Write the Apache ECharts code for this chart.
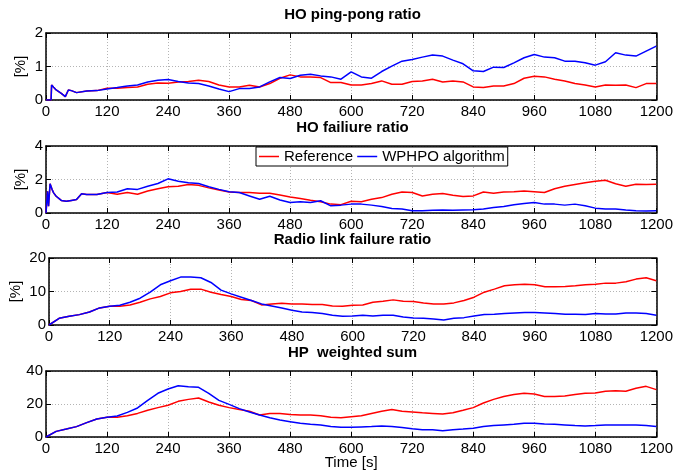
<!DOCTYPE html>
<html>
<head>
<meta charset="utf-8">
<title>HO performance</title>
<script src="https://cdn.jsdelivr.net/npm/echarts@6/dist/echarts.min.js"></script>
<style>
    html, body {margin: 0; padding: 0; background: #fff;}
    #chart {width: 676px; height: 471px;}
</style>
</head>
<body>
<div id="chart"></div>
<script>

// series names
var seriesNames = ['Reference', 'WPHPO algorithm'];
var panelTitles = ['HO ping-pong ratio', 'HO failiure ratio', 'Radio link failure ratio', 'HP  weighted sum'];
var yMaxes = [2, 4, 20, 40];

// time [s] sample points
var pingPongTime = [0, 10, 11, 15, 20, 30, 38, 44, 50, 60, 80, 100,
    120, 140, 160, 180, 200, 220, 240, 260, 280, 300, 320, 340, 360, 380, 400, 420, 440, 460, 480, 500,
    520, 540, 560, 580, 600, 620, 640, 660, 680, 700, 720, 740, 760, 780, 800, 820, 840, 860, 880, 900,
    920, 940, 960, 980, 1000, 1020, 1040, 1060, 1080, 1100, 1120, 1140, 1160, 1180, 1200];
var failureTime = [0, 3, 5, 8, 12, 15, 20, 30, 40, 50, 60, 70, 80, 100,
    120, 140, 160, 180, 200, 220, 240, 260, 280, 300, 320, 340, 360, 380, 400, 420, 440, 460, 480, 500,
    520, 540, 560, 580, 600, 620, 640, 660, 680, 700, 720, 740, 760, 780, 800, 820, 840, 860, 880, 900,
    920, 940, 960, 980, 1000, 1020, 1040, 1060, 1080, 1100, 1120, 1140, 1160, 1180, 1200];
var time = [0, 20, 40, 60, 80, 100,
    120, 140, 160, 180, 200, 220, 240, 260, 280, 300, 320, 340, 360, 380, 400, 420, 440, 460, 480, 500,
    520, 540, 560, 580, 600, 620, 640, 660, 680, 700, 720, 740, 760, 780, 800, 820, 840, 860, 880, 900,
    920, 940, 960, 980, 1000, 1020, 1040, 1060, 1080, 1100, 1120, 1140, 1160, 1180, 1200];

// HO ping-pong ratio [%]
var pingPongRef = [0, 0, 0.45, 0.38, 0.3, 0.2, 0.1, 0.3, 0.28, 0.22, 0.27, 0.28,
    0.35, 0.35, 0.37, 0.39, 0.47, 0.51, 0.5, 0.54, 0.55, 0.59, 0.55, 0.45, 0.39, 0.39, 0.44, 0.39, 0.49, 0.65, 0.75, 0.69,
    0.69, 0.67, 0.52, 0.52, 0.45, 0.45, 0.49, 0.57, 0.47, 0.47, 0.55, 0.57, 0.62, 0.54, 0.57, 0.54, 0.39, 0.37, 0.42, 0.42,
    0.49, 0.65, 0.71, 0.69, 0.62, 0.57, 0.49, 0.45, 0.39, 0.45, 0.44, 0.45, 0.37, 0.49, 0.49];
var pingPongAlg = [0, 0, 0.45, 0.38, 0.3, 0.2, 0.1, 0.3, 0.28, 0.22, 0.27, 0.28,
    0.33, 0.37, 0.42, 0.45, 0.54, 0.59, 0.61, 0.55, 0.51, 0.49, 0.42, 0.33, 0.25, 0.34, 0.34, 0.39, 0.54, 0.67, 0.64, 0.74,
    0.77, 0.72, 0.69, 0.62, 0.84, 0.69, 0.65, 0.85, 1.01, 1.16, 1.21, 1.28, 1.34, 1.31, 1.19, 1.08, 0.87, 0.85, 0.98, 0.97,
    1.11, 1.26, 1.36, 1.28, 1.26, 1.16, 1.16, 1.11, 1.04, 1.14, 1.41, 1.34, 1.31, 1.46, 1.61];

// HO failure ratio [%]
var failureRef = [0, 1.3, 0.4, 1.75, 1.4, 1.2, 1.0, 0.75, 0.7, 0.75, 0.8, 1.15, 1.1, 1.1,
    1.22, 1.12, 1.22, 1.12, 1.31, 1.45, 1.57, 1.6, 1.7, 1.65, 1.5, 1.37, 1.25, 1.22, 1.22, 1.18, 1.18, 1.08, 0.96, 0.86,
    0.76, 0.67, 0.53, 0.5, 0.7, 0.67, 0.82, 0.92, 1.12, 1.25, 1.22, 1.02, 1.12, 1.16, 1.06, 0.98, 1.02, 1.25, 1.18, 1.25,
    1.27, 1.31, 1.27, 1.22, 1.45, 1.6, 1.7, 1.8, 1.9, 1.96, 1.75, 1.6, 1.72, 1.7, 1.72];
var failureAlg = [0, 1.3, 0.4, 1.75, 1.4, 1.2, 1.0, 0.75, 0.7, 0.75, 0.8, 1.15, 1.1, 1.1,
    1.22, 1.25, 1.45, 1.41, 1.6, 1.76, 2.04, 1.9, 1.8, 1.76, 1.57, 1.41, 1.27, 1.22, 1.02, 0.82, 1.0, 0.78, 0.63, 0.67,
    0.63, 0.73, 0.43, 0.47, 0.53, 0.53, 0.47, 0.39, 0.27, 0.24, 0.14, 0.14, 0.16, 0.18, 0.16, 0.18, 0.2, 0.24, 0.33, 0.39,
    0.49, 0.57, 0.63, 0.53, 0.53, 0.47, 0.53, 0.43, 0.29, 0.24, 0.24, 0.18, 0.14, 0.12, 0.14];

// radio link failure ratio [%]
var rlfRef = [0, 2.0, 2.6, 3.1, 3.9, 5.1,
    5.6, 5.6, 6.0, 6.8, 7.8, 8.5, 9.6, 10.0, 10.7, 10.7, 9.8, 9.1, 8.5, 7.6, 7.3, 6.0, 6.3, 6.5, 6.3, 6.3,
    6.1, 6.1, 5.7, 5.6, 5.9, 6.0, 6.8, 7.1, 7.5, 7.1, 7.0, 6.6, 6.3, 6.3, 6.6, 7.3, 8.3, 9.8, 10.7, 11.7,
    12.0, 12.2, 12.0, 11.4, 11.4, 11.5, 11.7, 12.0, 12.2, 12.5, 12.5, 12.9, 13.7, 14.1, 13.2];
var rlfAlg = [0, 2.0, 2.6, 3.1, 3.9, 5.1,
    5.6, 5.9, 6.8, 8.0, 9.8, 12.0, 13.2, 14.3, 14.3, 14.1, 12.7, 10.4, 9.3, 8.3, 7.3, 6.3, 5.7, 5.1, 4.4, 3.9,
    3.7, 3.4, 2.9, 2.6, 2.7, 2.9, 2.7, 2.9, 2.9, 2.4, 2.1, 2.0, 1.8, 1.5, 2.0, 2.2, 2.7, 3.1, 3.2, 3.4,
    3.6, 3.7, 3.7, 3.6, 3.4, 3.2, 3.2, 3.1, 3.4, 3.3, 3.3, 3.6, 3.6, 3.4, 2.9];

// HP weighted sum
var hpRef = [0, 3.4, 4.8, 6.3, 8.7, 10.9,
    11.9, 11.9, 12.9, 14.3, 16.2, 17.8, 19.2, 21.6, 22.8, 23.6, 21.2, 19.2, 17.8, 16.6, 15.6, 13.3, 14.3, 14.3, 13.7, 13.3,
    13.3, 12.9, 11.9, 11.7, 12.3, 12.9, 14.3, 15.6, 16.6, 15.6, 15.2, 14.7, 14.3, 13.9, 14.7, 16.2, 17.8, 20.6, 22.8, 24.6,
    25.7, 26.5, 26.1, 24.6, 24.6, 24.8, 25.7, 26.5, 26.7, 27.7, 28.1, 27.7, 29.5, 30.7, 28.7];
var hpAlg = [0, 3.4, 4.8, 6.3, 8.7, 10.9,
    11.9, 12.7, 14.9, 17.6, 22.2, 26.5, 29.1, 31.1, 30.5, 30.1, 26.5, 22.2, 19.8, 17.2, 15.2, 13.3, 11.7, 10.3, 9.3, 8.3,
    7.7, 7.3, 6.3, 5.9, 5.9, 6.1, 6.3, 6.7, 6.3, 5.7, 5.0, 4.4, 4.4, 3.8, 4.4, 4.8, 5.3, 6.3, 6.9, 7.3,
    7.7, 8.3, 8.3, 7.9, 7.7, 7.3, 6.9, 6.7, 6.9, 7.3, 7.3, 7.3, 7.3, 6.9, 6.3];

var FONT = '"Liberation Sans", Arial, Helvetica, sans-serif';
var FONT_SIZE = 15;
var PLOT_LEFT = 46;
var PLOT_RIGHT = 17;
var PLOT_HEIGHT = 67;
var panelTops = [33, 146, 258, 371];
var nameGaps = [18, 18, 26, 26];

var panels = [
    {x: pingPongTime, ref: pingPongRef, alg: pingPongAlg},
    {x: failureTime, ref: failureRef, alg: failureAlg},
    {x: time, ref: rlfRef, alg: rlfAlg},
    {x: time, ref: hpRef, alg: hpAlg}
];

/**
 * zip x and y arrays into [x, y] pairs
 *
 * @param  {number[]} xs x values
 * @param  {number[]} ys y values
 * @return {Array} pairs
 */
function pairs(xs, ys) {
    var out = [];
    for (var i = 0; i < xs.length; ++i) {
        out.push([xs[i], ys[i]]);
    }
    return out;
}

function tickStyle() {
    return {inside: true, length: 5, lineStyle: {color: '#000', width: 1}};
}
function axisLineStyle() {
    return {show: true, onZero: false, lineStyle: {color: '#000', width: 1.5}};
}
function gridLine() {
    return {show: true, lineStyle: {color: '#b4b4b4', width: 1, type: [1, 2]}};
}
function labelStyle(margin) {
    return {
        margin: margin, color: '#000', fontSize: FONT_SIZE, fontFamily: FONT,
        formatter: function (v) {
            return String(v);
        }
    };
}

var grids = [];
var xAxes = [];
var yAxes = [];
var series = [];
var texts = [];

for (var i = 0; i < panels.length; ++i) {
    var panelTop = panelTops[i];
    var isLast = i === panels.length - 1;
    grids.push({left: PLOT_LEFT, right: PLOT_RIGHT, top: panelTop, height: PLOT_HEIGHT, show: false});

    xAxes.push({
        gridIndex: i, type: 'value', position: 'bottom', min: 0, max: 1200, interval: 120,
        axisLine: axisLineStyle(), axisTick: tickStyle(), axisLabel: labelStyle(4), splitLine: gridLine(),
        name: isLast ? 'Time [s]' : '', nameLocation: 'middle', nameGap: 18, nameMoveOverlap: false,
        nameTextStyle: {color: '#000', fontSize: FONT_SIZE, fontFamily: FONT}
    });
    xAxes.push({
        gridIndex: i, type: 'value', position: 'top', min: 0, max: 1200, interval: 120,
        axisLine: axisLineStyle(), axisTick: tickStyle(), axisLabel: {show: false}, splitLine: {show: false}
    });
    yAxes.push({
        gridIndex: i, type: 'value', position: 'left', min: 0, max: yMaxes[i], interval: yMaxes[i] / 2,
        axisLine: axisLineStyle(), axisTick: tickStyle(), axisLabel: labelStyle(3), splitLine: gridLine(),
        name: isLast ? '' : '[%]', nameLocation: 'middle', nameGap: nameGaps[i], nameRotate: 90,
        nameMoveOverlap: false,
        nameTextStyle: {color: '#000', fontSize: FONT_SIZE, fontFamily: FONT}
    });
    yAxes.push({
        gridIndex: i, type: 'value', position: 'right', min: 0, max: yMaxes[i], interval: yMaxes[i] / 2,
        axisLine: axisLineStyle(), axisTick: tickStyle(), axisLabel: {show: false}, splitLine: {show: false}
    });

    series.push({
        name: seriesNames[0], type: 'line', xAxisIndex: 2 * i, yAxisIndex: 2 * i,
        data: pairs(panels[i].x, panels[i].ref), symbol: 'none', color: '#ff0000',
        lineStyle: {color: '#ff0000', width: 1.5}
    });
    series.push({
        name: seriesNames[1], type: 'line', xAxisIndex: 2 * i, yAxisIndex: 2 * i,
        data: pairs(panels[i].x, panels[i].alg), symbol: 'none', color: '#0000ff',
        lineStyle: {color: '#0000ff', width: 1.5}
    });

    texts.push({
        type: 'text', x: PLOT_LEFT + (676 - PLOT_LEFT - PLOT_RIGHT) / 2, y: panelTop - 18,
        style: {
            text: panelTitles[i], align: 'center', verticalAlign: 'middle',
            fontSize: FONT_SIZE, fontWeight: 'bold', fontFamily: FONT, fill: '#000'
        }
    });
}

var chart = echarts.init(document.getElementById('chart'));
chart.setOption({
    animation: false,
    backgroundColor: '#fff',
    grid: grids,
    xAxis: xAxes,
    yAxis: yAxes,
    series: series,
    graphic: texts,
    legend: {
        data: seriesNames,
        left: 256,
        top: panelTops[1] + 1,
        icon: 'rect',
        itemWidth: 20,
        itemHeight: 1.5,
        itemGap: 4,
        padding: [2, 3, 2, 3],
        borderColor: '#000',
        borderWidth: 1,
        backgroundColor: '#fff',
        textStyle: {color: '#000', fontSize: FONT_SIZE, fontFamily: FONT}
    }
});

</script>
</body>
</html>
